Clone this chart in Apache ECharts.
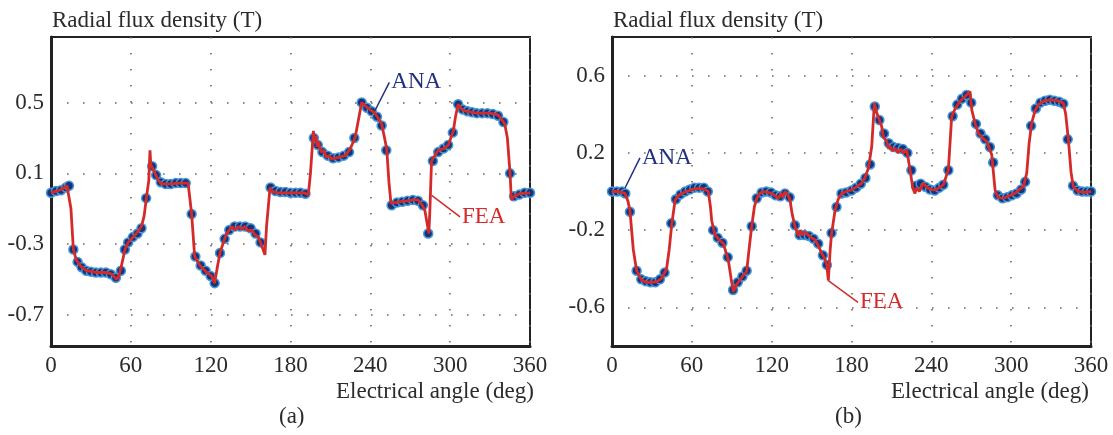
<!DOCTYPE html>
<html>
<head>
<meta charset="utf-8">
<script src="https://cdn.jsdelivr.net/npm/echarts@6.0.0/dist/echarts.min.js"></script>
<style>
  html, body { margin: 0; padding: 0; background: #fff; }
  #chart { width: 1113px; height: 435px; }
</style>
</head>
<body>
<div id="chart"></div>
<script>
// panel (a) - FEA curve, [angle, B]
const feaA = [
  [0,-0.01],[4,0.0],[8,0.01],[12,0.03],[13.5,0.04],[15,-0.1],[16.8,-0.33],[19,-0.39],[23,-0.43],[27,-0.45],
  [35,-0.46],[42,-0.46],[46,-0.47],[49.4,-0.5],[51,-0.48],[53,-0.42],[55.6,-0.33],[58,-0.29],[63,-0.25],[68,-0.2],
  [70,-0.14],[72,-0.02],[73.5,0.06],[74.4,0.23],[75,0.15],[77,0.12],[80,0.07],[83,0.04],[90,0.04],[97,0.045],
  [103,0.045],[104.5,-0.05],[105.7,-0.13],[108,-0.37],[112,-0.42],[117,-0.46],[120.8,-0.48],[123,-0.52],[125,-0.43],[127,-0.35],
  [130,-0.28],[132,-0.24],[134,-0.22],[136,-0.2],[138,-0.22],[141,-0.2],[143,-0.215],[146,-0.2],[148,-0.225],[151,-0.22],
  [153,-0.245],[155.8,-0.26],[158,-0.3],[160.8,-0.36],[162,-0.2],[164.6,0.02],[166,0.0],[170,-0.01],[180,-0.01],[190,-0.01],
  [193.4,-0.02],[195,0.1],[197.2,0.34],[198,0.28],[199,0.31],[200,0.25],[201,0.28],[203,0.22],[205,0.23],[207,0.19],
  [209,0.2],[211,0.18],[216,0.19],[221,0.2],[225,0.24],[228.5,0.3],[231,0.4],[233.5,0.5],[238,0.47],[243.5,0.44],
  [248.5,0.38],[252.3,0.24],[254,0.05],[255.5,-0.07],[257,-0.08],[262,-0.06],[268,-0.055],[272,-0.05],[275.8,-0.05],[279,-0.08],
  [281,-0.11],[284,-0.24],[284.8,-0.1],[286,0.17],[291,0.23],[295,0.24],[298.6,0.26],[302.4,0.34],[304,0.42],[306,0.49],
  [309,0.46],[312.5,0.45],[320,0.44],[330,0.44],[336,0.43],[341,0.38],[343,0.3],[345,0.1],[346,-0.05],[348,-0.03],
  [352,-0.015],[360,-0.01]
];
// panel (a) - ANA points
const anaA = [
  [0,-0.01],[3.75,0.0],[7.5,0.005],[11.25,0.02],[13.5,0.03],
  [16.8,-0.33],[20,-0.4],[23,-0.43],[26.5,-0.45],[30,-0.455],[33.75,-0.46],[37.5,-0.46],[41.25,-0.46],[45,-0.47],[48.75,-0.49],
  [52.5,-0.45],[55.5,-0.33],[58,-0.29],[61.5,-0.26],[65,-0.24],[68,-0.21],[71.5,-0.04],
  [76,0.14],[79,0.09],[82.5,0.05],[86.25,0.04],[90,0.04],[93.75,0.045],[97.5,0.045],[101.25,0.045],
  [105.7,-0.13],[108.5,-0.37],[112.5,-0.42],[116.25,-0.45],[120,-0.48],[123,-0.52],
  [127,-0.35],[130.5,-0.27],[134,-0.22],[138,-0.2],[142,-0.2],[146,-0.2],[150,-0.21],[153.75,-0.24],[157.5,-0.29],
  [165,0.02],[168.75,0.0],[172.5,-0.005],[176.25,-0.005],[180,-0.01],[183.75,-0.01],[187.5,-0.01],[191.25,-0.015],
  [197.5,0.3],[200.5,0.26],[204,0.22],[208,0.2],[212,0.185],[216,0.19],[220,0.2],[224,0.22],[228,0.3],
  [233.5,0.5],[237.5,0.47],[241,0.45],[245,0.42],[248.5,0.37],[252,0.23],
  [256,-0.08],[260,-0.065],[264,-0.06],[268,-0.055],[272,-0.05],[275.8,-0.055],[279.5,-0.08],[283.5,-0.24],
  [287,0.17],[291,0.22],[295,0.24],[298.5,0.26],[302,0.33],[306,0.49],[309.5,0.46],[313,0.45],[316.5,0.445],[320,0.44],
  [324,0.44],[328,0.44],[332,0.435],[336,0.425],[340,0.39],
  [345,0.1],[348,-0.03],[352,-0.02],[356,-0.01],[360,-0.01]
];

// panel (b) - FEA curve
const feaB = [
  [0,0.0],[5,0.0],[9.8,-0.01],[12,-0.05],[13.5,-0.1],[16,-0.3],[18.5,-0.41],[22.3,-0.46],[26,-0.47],[29.8,-0.47],
  [34,-0.465],[37.3,-0.45],[41,-0.4],[43,-0.3],[44.9,-0.17],[47.4,-0.045],[50,-0.02],[52.4,-0.01],[56,0.0],[59.9,0.01],
  [64,0.015],[67.4,0.015],[70,0.01],[72.4,0.0],[74,-0.08],[74.9,-0.15],[77.4,-0.225],[80.5,-0.25],[83.7,-0.27],[87.4,-0.355],
  [89.5,-0.45],[91.2,-0.52],[93,-0.49],[94.9,-0.47],[98,-0.44],[101.2,-0.415],[103,-0.3],[105,-0.18],[107,-0.08],[108.8,-0.035],
  [111,-0.01],[113.7,0.0],[117,-0.005],[120,-0.01],[122,-0.02],[125,-0.035],[127,-0.01],[128.5,-0.03],[130,0.0],[131.3,0.01],
  [132.5,-0.02],[133.8,-0.045],[135.5,-0.12],[137.5,-0.18],[140,-0.23],[141.5,-0.2],[143,-0.225],[145,-0.21],[147.5,-0.225],[150,-0.24],
  [152.6,-0.25],[155,-0.28],[157.6,-0.32],[160,-0.35],[161.4,-0.38],[162.6,-0.46],[164,-0.3],[165,-0.22],[167.6,-0.1],[170,-0.04],
  [172.6,-0.01],[176,0.0],[180,0.008],[184,0.025],[187.7,0.043],[190,0.07],[192.7,0.12],[195.2,0.233],[197.2,0.458],[199,0.406],
  [202.7,0.337],[204,0.28],[206.5,0.259],[208,0.22],[209,0.235],[211,0.21],[212.7,0.224],[215,0.2],[217,0.22],[219,0.2],
  [221.5,0.216],[224,0.112],[226,0.02],[227.7,-0.01],[229,0.02],[231,0.0],[234,0.043],[237,0.02],[240,0.01],[242.8,0.008],
  [246,0.02],[249,0.034],[252.8,0.112],[255.3,0.389],[258,0.43],[261.6,0.467],[265,0.49],[269,0.518],[270.4,0.423],[273,0.35],
  [275.3,0.302],[278,0.28],[281.6,0.259],[285.4,0.19],[287.9,0.008],[290,-0.03],[292.9,-0.035],[296,-0.03],[299,-0.02],[302.9,-0.009],
  [306,0.01],[309.2,0.025],[311.7,0.095],[313.5,0.25],[315.4,0.354],[318,0.42],[320.4,0.449],[325,0.47],[330.5,0.475],[335,0.47],
  [339.2,0.458],[341,0.4],[343,0.268],[345,0.1],[346.7,0.025],[350.5,0.0],[355,-0.005],[360,0.0]
];
// panel (b) - ANA points
const anaB = [
  [0,0.0],[3.75,0.0],[7.5,0.0],[10,-0.01],[13.5,-0.105],
  [18.5,-0.41],[22,-0.455],[25.5,-0.465],[29,-0.47],[32.5,-0.47],[36,-0.455],[39.5,-0.42],
  [44.5,-0.165],[48,-0.04],[51.5,-0.015],[55,0.0],[58.5,0.01],[62,0.02],[65.5,0.02],[69,0.02],[72,0.0],
  [76,-0.2],[79.5,-0.24],[83,-0.265],[87,-0.34],[91,-0.51],[94.5,-0.47],[98,-0.44],[101.2,-0.41],
  [105,-0.18],[108.8,-0.035],[112.5,-0.005],[116,0.0],[119.5,-0.005],[123,-0.02],[126.5,-0.025],[130,-0.01],
  [133.5,-0.03],[137.5,-0.175],[141,-0.225],[144.5,-0.225],[148,-0.23],[151.5,-0.245],[155,-0.27],[158.5,-0.33],[161.5,-0.38],
  [165,-0.215],[168.75,-0.08],[172.5,-0.01],[176,-0.005],[180,0.005],[183.5,0.02],[187,0.04],[190.5,0.07],[194,0.14],
  [197.5,0.44],[201,0.37],[204.5,0.3],[208,0.25],[211.5,0.23],[215,0.225],[218.5,0.22],[222,0.2],[225,0.11],
  [228.5,0.03],[232,0.04],[235.5,0.025],[239,0.01],[242.5,0.005],[246,0.02],[249,0.035],[252.8,0.11],
  [256,0.39],[259.5,0.45],[263,0.48],[266.5,0.5],[270,0.46],[273.5,0.35],[277,0.3],[280.5,0.27],[284,0.23],[286.5,0.15],
  [290,-0.02],[293.5,-0.035],[297,-0.03],[300.5,-0.02],[304,-0.01],[307.5,0.01],[310.5,0.05],
  [315,0.34],[318.5,0.43],[322,0.46],[325.5,0.47],[329,0.475],[332.5,0.47],[336,0.465],[339.2,0.455],
  [342.5,0.27],[346.5,0.03],[350,0.005],[353.5,0.0],[357,0.0],[360,0.0]
];

// tick labels
const yTicksA = [-0.7, -0.3, 0.1, 0.5];
const yTicksB = [-0.6, -0.2, 0.2, 0.6];

// leader lines for the ANA / FEA tags, [start, end]
const anaTagA = [[243.5, 0.455], [254.3, 0.614]];
const feaTagA = [[286.1, -0.024], [307.4, -0.146]];
const anaTagB = [[9.8, 0.018], [21, 0.174]];
const feaTagB = [[162.3, -0.46], [184.9, -0.574]];

const FONT = "'Liberation Serif', 'DejaVu Serif', serif";
const FS = 23;
const RED = '#d42a2a';
const NAVY = '#22307e';
const TXT = '#2b2b2b';

const myChart = echarts.init(document.getElementById('chart'));

function xAxisCfg(idx) {
  return {
    gridIndex: idx, type: 'value', min: 0, max: 360, interval: 60,
    axisLine: { show: true, onZero: false, lineStyle: { color: '#222', width: 3 } },
    axisTick: { show: false },
    axisLabel: { color: TXT, fontFamily: FONT, fontSize: FS, margin: 8 },
    splitLine: { show: true, lineStyle: { color: '#6a6a6a', width: 1.6, type: [1.6, 14.4] } }
  };
}
function yAxisCfg(idx, min, max, ticks) {
  return {
    gridIndex: idx, type: 'value', min: min, max: max,
    name: 'Radial flux density (T)', nameLocation: 'end', nameGap: 16,
    nameTextStyle: { color: TXT, fontFamily: FONT, fontSize: FS, align: 'left', verticalAlign: 'middle', padding: [0, 0, 0, 1] },
    axisLine: { show: true, onZero: false, lineStyle: { color: '#222', width: 3 } },
    axisTick: { show: false, customValues: ticks },
    axisLabel: { color: TXT, fontFamily: FONT, fontSize: FS, margin: 7, customValues: ticks,
      formatter: v => String(v) },
    splitLine: { show: true, lineStyle: { color: '#6a6a6a', width: 1.6, type: [1.6, 14.4] } }
  };
}
function tag(idx, pts, text, color) {
  return {
    type: 'line', xAxisIndex: idx, yAxisIndex: idx, z: 5, silent: true,
    symbol: 'none', lineStyle: { color: color, width: 1.5 },
    data: pts,
    endLabel: { show: true, formatter: text, distance: 2,
      color: color, fontFamily: FONT, fontSize: FS }
  };
}
function ana(idx, data) {
  return {
    type: 'scatter', xAxisIndex: idx, yAxisIndex: idx, z: 2, data: data,
    symbol: 'circle', symbolSize: 9,
    itemStyle: { color: '#16337a', borderColor: '#4696d6', borderWidth: 1.5, opacity: 1 }
  };
}
function fea(idx, data) {
  return {
    type: 'line', xAxisIndex: idx, yAxisIndex: idx, z: 3, data: data,
    symbol: 'none', lineStyle: { color: RED, width: 2.8 }
  };
}

const titleStyle = { color: TXT, fontFamily: FONT, fontSize: FS, fontWeight: 'normal' };

myChart.setOption({
  backgroundColor: '#fff',
  animation: false,
  title: [
    { text: 'Electrical angle (deg)', left: 336, top: 380, padding: 0, textStyle: titleStyle },
    { text: '(a)', left: 279, top: 405, padding: 0, textStyle: titleStyle },
    { text: 'Electrical angle (deg)', left: 891, top: 380, padding: 0, textStyle: titleStyle },
    { text: '(b)', left: 835, top: 405, padding: 0, textStyle: titleStyle }
  ],
  grid: [
    { left: 51, top: 37, width: 479, height: 309, show: true, borderColor: '#222', borderWidth: 2, backgroundColor: '#fff' },
    { left: 612, top: 37, width: 479, height: 309, show: true, borderColor: '#222', borderWidth: 2, backgroundColor: '#fff' }
  ],
  xAxis: [xAxisCfg(0), xAxisCfg(1)],
  yAxis: [yAxisCfg(0, -0.875, 0.87, yTicksA), yAxisCfg(1, -0.8, 0.8, yTicksB)],
  series: [
    ana(0, anaA), fea(0, feaA),
    ana(1, anaB), fea(1, feaB),
    tag(0, anaTagA, 'ANA', NAVY), tag(0, feaTagA, 'FEA', RED),
    tag(1, anaTagB, 'ANA', NAVY), tag(1, feaTagB, 'FEA', RED)
  ]
});
window.onresize = myChart.resize;
</script>
</body>
</html>
